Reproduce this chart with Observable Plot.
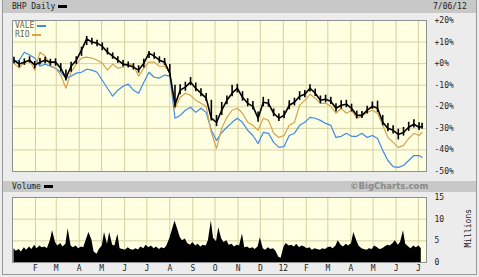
<!DOCTYPE html>
<html><head><meta charset="utf-8">
<script src="https://cdn.jsdelivr.net/npm/d3@7"></script>
<script src="https://cdn.jsdelivr.net/npm/@observablehq/plot@0.6"></script>
<style>
body{margin:0;background:#fff;}
#wrap{position:relative;width:479px;height:277px;background:#ececec;overflow:hidden;font-family:"DejaVu Sans Mono",monospace;font-size:8px;color:#222;}
#frame{position:absolute;left:2px;top:0;width:473px;height:274px;border:1px solid #9a9a9a;border-top:none;}
.hdr{position:absolute;left:3px;width:473px;background:#c8c8c8;}
.txt{position:absolute;white-space:nowrap;line-height:10px;}
.sw{display:inline-block;width:9px;height:2px;vertical-align:middle;margin-left:3px;}
.brand{position:absolute;font-family:"DejaVu Sans",sans-serif;font-weight:bold;font-size:8.5px;color:#8a8a8a;line-height:11px;}
.mill{position:absolute;left:449px;top:224px;width:38px;text-align:center;transform:rotate(-90deg);line-height:9px;}
#top,#vol{position:absolute;left:0;}
</style></head><body>
<div id="wrap">
  <div id="frame"></div>
  <div class="hdr" style="top:0;height:13px"></div>
  <div class="txt" style="left:12px;top:2px">BHP Daily<span class="sw" style="background:#000;height:3px"></span></div>
  <div class="txt" style="left:433px;top:2px">7/06/12</div>
  <div class="hdr" style="top:181px;height:11px"></div>
  <div class="txt" style="left:12px;top:182px">Volume<span class="sw" style="background:#000;height:3px"></span></div>
  <div class="brand" style="left:350px;top:181px">©BigCharts.com</div>
  <div id="top" style="top:0"></div>
  <div id="vol" style="top:192px"></div>
  <div class="txt" style="left:15px;top:21px;color:#666">VALE<span class="sw" id="swV"></span></div>
  <div class="txt" style="left:15px;top:30px;color:#666">RIO<span class="sw" id="swR"></span></div>
  <div class="txt mill">Millions</div>
</div>
<script>
// ---- data (percent change vs. start, weekly readings; last entry = Jul 6 2012) ----
const bhpClose = [1.6,-0.2,0.7,1.6,-0.7,0.7,1.6,0.7,0.7,-2.1,
 -6.7,-1.2,1.6,6.3,11.5,10.0,9.5,8.1,5.3,3.5,
 1.6,-0.2,-0.7,-1.6,-3.0,0.2,4.9,3.5,1.6,0.7,
 -4.5,-19.0,-12.3,-10.9,-8.6,-11.4,-13.7,-16.0,-25.3,-27.2,
 -21.6,-17.0,-13.7,-11.4,-15.6,-18.4,-19.8,-25.3,-17.9,-18.4,
 -23.0,-25.3,-24.0,-19.3,-17.9,-15.1,-14.2,-11.4,-13.7,-17.0,
 -16.5,-17.4,-20.7,-19.3,-18.8,-20.7,-24.0,-24.0,-21.6,-19.8,
 -20.7,-27.2,-30.0,-30.9,-32.8,-31.9,-29.5,-28.1,-29.5,-29.1];
const bhpHigh = [3.0,1.2,2.2,3.2,1.0,2.4,3.0,2.0,2.2,0.0,
 -3.0,0.6,3.2,7.6,12.6,11.8,10.8,9.6,7.2,5.0,
 3.2,1.4,0.8,0.0,-1.0,2.0,5.6,5.0,3.2,2.4,
 -0.4,-10.0,-9.8,-8.6,-6.4,-9.0,-11.6,-13.8,-17.0,-24.0,
 -18.0,-15.0,-10.0,-9.6,-13.0,-16.2,-17.6,-22.4,-15.6,-16.6,
 -21.0,-23.4,-22.0,-17.2,-16.0,-13.0,-12.4,-9.8,-11.8,-15.0,
 -14.6,-15.6,-18.6,-17.2,-17.0,-18.8,-22.0,-22.2,-19.8,-17.8,
 -17.4,-24.0,-27.8,-28.8,-30.4,-29.6,-27.2,-26.0,-27.4,-27.6];
const bhpLow = [0.0,-1.8,-0.8,0.2,-2.4,-0.6,0.0,-1.0,-1.2,-3.8,
 -8.0,-4.0,-0.4,3.4,8.4,8.6,7.8,6.0,4.0,2.0,
 0.2,-1.6,-2.0,-3.0,-4.4,-2.0,2.4,2.0,0.2,-0.8,
 -6.0,-20.5,-14.4,-12.8,-10.2,-13.0,-15.4,-17.6,-26.6,-29.2,
 -24.0,-19.0,-15.4,-13.6,-17.4,-20.0,-21.4,-27.2,-20.0,-20.2,
 -24.6,-26.8,-25.6,-21.4,-19.6,-17.0,-15.8,-13.2,-15.2,-18.6,
 -18.2,-19.0,-22.4,-21.0,-20.4,-22.4,-25.6,-25.4,-23.4,-21.2,
 -22.6,-28.8,-31.6,-32.6,-35.4,-33.6,-31.4,-29.8,-31.0,-30.4];
const rio = [0.2,-2.1,0.7,1.6,-3.0,5.3,3.5,-0.7,-2.1,-5.3,
 -11.4,-4.0,-0.2,2.6,3.0,2.6,1.6,0.2,-3.0,-0.2,
 -2.1,-1.6,0.2,-0.7,-5.8,-2.1,0.7,0.7,-1.2,-1.2,
 -4.0,-20.7,-15.6,-13.7,-14.7,-17.0,-18.4,-19.8,-31.9,-39.3,
 -30.0,-24.9,-21.6,-20.7,-23.0,-27.2,-28.6,-30.9,-25.3,-26.3,
 -32.3,-34.2,-33.3,-28.6,-27.2,-19.3,-17.0,-14.2,-16.0,-18.4,
 -18.4,-19.8,-23.0,-20.7,-23.0,-21.6,-25.3,-24.4,-22.6,-21.6,
 -23.0,-28.6,-34.2,-36.5,-38.8,-37.9,-34.7,-32.3,-33.3,-31.9];
const vale = [0.7,1.6,5.3,4.0,2.6,-1.2,-0.2,-1.2,-2.1,-4.0,
 -6.7,-5.8,-4.4,-4.0,-2.6,-3.0,-4.0,-7.7,-11.4,-15.1,
 -12.3,-10.5,-9.5,-12.3,-13.7,-8.6,-4.0,-6.3,-6.7,-5.3,
 -5.8,-25.3,-24.0,-21.6,-20.2,-22.6,-20.7,-22.6,-30.9,-35.6,
 -31.9,-29.5,-27.2,-25.3,-27.2,-30.9,-33.3,-37.0,-31.9,-32.3,
 -36.5,-38.8,-38.4,-33.3,-32.3,-28.6,-27.2,-24.9,-25.3,-26.3,
 -27.7,-28.6,-34.2,-33.7,-32.3,-33.7,-33.7,-32.3,-34.2,-33.3,
 -34.7,-40.2,-44.9,-47.7,-48.1,-47.2,-44.9,-42.6,-42.6,-43.5];
// volume in millions, two readings per week (Mon, Thu)
const volume = [3.2,2.6,3.0,2.4,3.4,2.8,3.6,3.0,4.0,3.2,
 3.8,3.4,3.6,3.2,5.0,7.3,4.6,3.8,4.4,3.6,
 4.2,7.8,3.8,3.4,3.8,3.2,3.6,3.4,5.5,6.9,
 5.2,2.4,1.9,3.0,3.8,6.9,4.2,6.9,4.0,3.8,
 6.5,3.2,3.0,2.8,3.4,3.0,2.8,3.2,2.9,3.6,
 3.2,4.0,3.4,3.8,3.2,3.6,3.0,3.4,3.2,3.8,
 5.5,7.2,9.6,8.0,5.8,5.0,5.4,4.4,4.0,4.6,
 3.8,4.2,3.6,4.0,3.8,5.0,9.6,5.6,4.8,8.0,
 5.4,4.6,5.0,4.0,4.2,3.6,4.0,3.8,6.6,3.4,
 3.6,3.2,3.4,3.0,3.6,5.7,3.2,2.8,3.4,3.0,
 3.2,2.6,1.2,1.0,3.6,4.4,3.8,4.0,3.6,4.2,
 3.4,3.8,3.6,3.2,3.4,2.8,3.2,3.0,2.8,3.2,
 3.0,3.4,3.6,3.2,3.8,5.0,4.0,3.6,4.2,3.8,
 4.4,6.9,5.0,3.8,3.2,3.0,2.8,3.2,3.0,3.8,
 3.4,3.0,3.2,3.6,4.0,3.8,4.4,5.0,4.0,4.6,
 7.3,4.2,3.6,3.2,3.8,3.4,3.8,3.2];
const pctTicks = [20,10,0,-10,-20,-30,-40,-50];
const volTicks = [0,5,10,15];
const monthLetters = ["12","F","M","A","M","J","J","A","S","O","N","D"];
const colors = {vale:"#3f8ae6", rio:"#d6a24e", bhp:"#000"};

// ---- calendar ----
const mondays = d3.utcMonday.range(new Date(Date.UTC(2011,0,3)), new Date(Date.UTC(2012,6,3)));
const dates = [...mondays, new Date(Date.UTC(2012,6,6))];
const volDates = mondays.flatMap(d => [d, d3.utcDay.offset(d, 3)]);
const monthStarts = d3.utcMonth.range(new Date(Date.UTC(2011,1,1)), new Date(Date.UTC(2012,6,2)));
const xDomain = [new Date(Date.UTC(2011,0,1)), new Date(Date.UTC(2012,6,12))];

const rows = dates.map((d,i) => ({date:d, close:bhpClose[i], high:bhpHigh[i], low:bhpLow[i], rio:rio[i], vale:vale[i]}));
const vrows = volDates.map((d,i) => ({date:d, v:volume[i]}));

document.getElementById("swV").style.background = colors.vale;
document.getElementById("swR").style.background = colors.rio;

const gridColor = "#d5d1a2";
const font = {background:"transparent", fontFamily:"DejaVu Sans Mono, monospace", fontSize:"8px", color:"#222", overflow:"visible"};

const topChart = Plot.plot({
  width:479, height:180, marginLeft:12, marginRight:53, marginTop:20, marginBottom:9,
  style:font,
  x:{type:"utc", domain:xDomain, axis:null},
  y:{domain:[-50,20], axis:"right", ticks:pctTicks, tickSize:0, tickPadding:8, label:null,
     tickFormat:d => (d >= 0 ? "+" : "-") + Math.abs(d) + "%"},
  marks:[
    Plot.frame({fill:"#ffffe2"}),
    Plot.ruleX(monthStarts, {stroke:gridColor, strokeWidth:1}),
    Plot.ruleY(pctTicks, {stroke:gridColor, strokeWidth:1}),
    Plot.line(rows, {x:"date", y:"vale", stroke:colors.vale, strokeWidth:1.2}),
    Plot.line(rows, {x:"date", y:"rio", stroke:colors.rio, strokeWidth:1.2}),
    Plot.ruleX(rows, {x:"date", y1:"low", y2:"high", stroke:colors.bhp, strokeWidth:1.6}),
    Plot.line(rows, {x:"date", y:"close", stroke:colors.bhp, strokeWidth:1.6}),
    Plot.frame({stroke:"#8f8f8f"})
  ]
});
document.getElementById("top").append(topChart);

const volChart = Plot.plot({
  width:479, height:85, marginLeft:12, marginRight:53, marginTop:5, marginBottom:15,
  style:font,
  x:{type:"utc", domain:xDomain, ticks:monthStarts, tickSize:0, tickPadding:3, label:null,
     tickFormat:d => monthLetters[d.getUTCMonth()]},
  y:{domain:[0,15], axis:"right", ticks:volTicks, tickSize:0, tickPadding:8, label:null},
  marks:[
    Plot.frame({fill:"#ffffe2"}),
    Plot.ruleX(monthStarts, {stroke:gridColor, strokeWidth:1}),
    Plot.ruleY(volTicks, {stroke:gridColor, strokeWidth:1}),
    Plot.areaY(vrows, {x:"date", y:"v", fill:"#000"}),
    Plot.frame({stroke:"#8f8f8f"})
  ]
});
document.getElementById("vol").append(volChart);
</script>
</body></html>
